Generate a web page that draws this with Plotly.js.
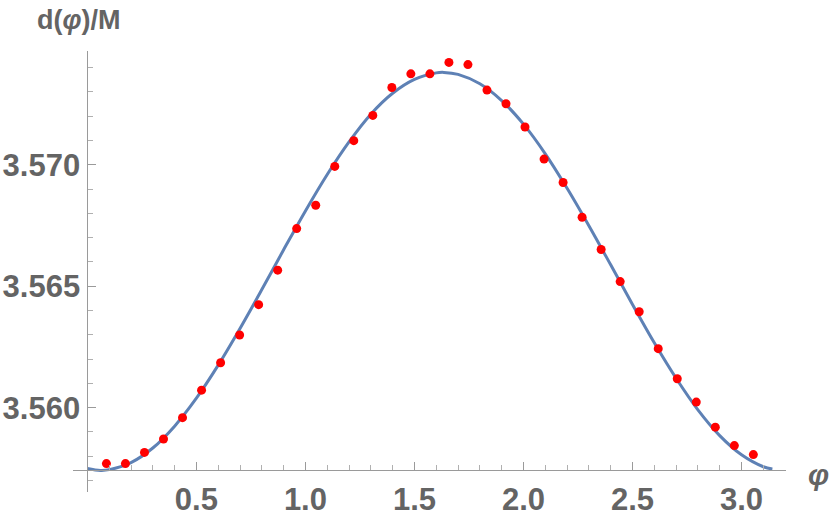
<!DOCTYPE html>
<html>
<head>
<meta charset="utf-8">
<script src="https://cdn.plot.ly/plotly-3.0.1.min.js"></script>
<style>html,body{margin:0;padding:0;background:#fff;}#chart{width:830px;height:517px;}</style>
</head>
<body>
<div id="chart"></div>
<script>
// Curve d(phi)/M
const curvePhi = [0, 0.06, 0.1, 0.2, 0.3, 0.4, 0.5, 0.6, 0.7, 0.8, 0.9, 1.0, 1.1, 1.2, 1.3, 1.4, 1.5, 1.6, 1.635, 1.7, 1.8, 1.9, 2.0, 2.1, 2.2, 2.3, 2.4, 2.5, 2.6, 2.7, 2.8, 2.9, 3.0, 3.1, 3.1416];
const curveD = [3.55750, 3.55742, 3.55745, 3.55774, 3.55834, 3.55924, 3.56039, 3.56175, 3.56326, 3.56486, 3.56650, 3.56810, 3.56960, 3.57094, 3.57208, 3.57294, 3.57351, 3.57378, 3.57380, 3.57372, 3.57333, 3.57264, 3.57167, 3.57045, 3.56903, 3.56749, 3.56588, 3.56425, 3.56267, 3.56121, 3.55991, 3.55885, 3.55806, 3.55757, 3.55748];

// Red sample points
const pointPhi = [0.0873, 0.1745, 0.2618, 0.3491, 0.4363, 0.5236, 0.6109, 0.6981, 0.7854, 0.8727, 0.9599, 1.0472, 1.1345, 1.2217, 1.3090, 1.3963, 1.4835, 1.5708, 1.6581, 1.7453, 1.8326, 1.9199, 2.0071, 2.0944, 2.1817, 2.2689, 2.3562, 2.4435, 2.5307, 2.6180, 2.7053, 2.7925, 2.8798, 2.9671, 3.0543];
const pointD = [3.55770, 3.55770, 3.55816, 3.55871, 3.55959, 3.56072, 3.56185, 3.56299, 3.56424, 3.56566, 3.56737, 3.56833, 3.56993, 3.57099, 3.57203, 3.57318, 3.57374, 3.57374, 3.57421, 3.57412, 3.57307, 3.57251, 3.57155, 3.57023, 3.56927, 3.56784, 3.56651, 3.56519, 3.56395, 3.56243, 3.56119, 3.56023, 3.55920, 3.55844, 3.55807];

// Axis ticks
const xTickVals = [0.5, 1.0, 1.5, 2.0, 2.5, 3.0];
const xTickText = ["0.5", "1.0", "1.5", "2.0", "2.5", "3.0"];
const xMinorVals = [0.1, 0.2, 0.3, 0.4, 0.6, 0.7, 0.8, 0.9, 1.1, 1.2, 1.3, 1.4, 1.6, 1.7, 1.8, 1.9, 2.1, 2.2, 2.3, 2.4, 2.6, 2.7, 2.8, 2.9, 3.1];
const yTickVals = [3.560, 3.565, 3.570];
const yTickText = ["3.560", "3.565", "3.570"];
const yMinorVals = [3.557, 3.558, 3.559, 3.561, 3.562, 3.563, 3.564, 3.566, 3.567, 3.568, 3.569, 3.571, 3.572, 3.573, 3.574];

const xRange = [-0.066, 3.204];
const yRange = [3.55653, 3.57468];
const xAxisAtY = 3.55745;
const yAxisAtX = 0;

const tickFont = {family: "Liberation Sans, Arial, sans-serif", size: 31, color: "#646464", weight: "bold"};

const data = [
  {x: curvePhi, y: curveD, type: "scatter", mode: "lines",
   line: {color: "#5E81B5", width: 3, shape: "spline", smoothing: 1}, hoverinfo: "skip"},
  {x: pointPhi, y: pointD, type: "scatter", mode: "markers",
   marker: {color: "#FF0000", size: 9}}
];

const layout = {
  width: 830, height: 517,
  margin: {l: 73, r: 44, t: 51, b: 25, pad: 0},
  paper_bgcolor: "#fff", plot_bgcolor: "#fff",
  showlegend: false,
  xaxis: {
    range: xRange, showgrid: false, zeroline: false,
    showline: true, linecolor: "#9a9a9a", linewidth: 1,
    anchor: "free",
    position: (xAxisAtY - yRange[0]) / (yRange[1] - yRange[0]),
    tickmode: "array", tickvals: xTickVals, ticktext: xTickText,
    ticks: "inside", ticklen: 8, tickcolor: "#9a9a9a", tickwidth: 1,
    minor: {tickmode: "array", tickvals: xMinorVals, ticks: "inside", ticklen: 5, tickcolor: "#b0b0b0", tickwidth: 1},
    tickfont: tickFont, ticklabelstandoff: 2
  },
  yaxis: {
    range: yRange, showgrid: false, zeroline: false,
    showline: true, linecolor: "#9a9a9a", linewidth: 1,
    anchor: "free",
    position: (yAxisAtX - xRange[0]) / (xRange[1] - xRange[0]),
    tickmode: "array", tickvals: yTickVals, ticktext: yTickText,
    ticks: "inside", ticklen: 8, tickcolor: "#9a9a9a", tickwidth: 1,
    minor: {tickmode: "array", tickvals: yMinorVals, ticks: "inside", ticklen: 5, tickcolor: "#b0b0b0", tickwidth: 1},
    tickfont: tickFont, ticklabelstandoff: 1
  },
  annotations: [
    {text: "d(<i>φ</i>)/M", xref: "paper", yref: "paper", x: -0.053, y: 1.0, yshift: 31,
     xanchor: "left", yanchor: "middle", showarrow: false,
     font: {family: "Liberation Sans, Arial, sans-serif", size: 27, color: "#646464", weight: "bold"}},
    {text: "<i>φ</i>", xref: "paper", yref: "paper", x: 1.0, xshift: 20, yshift: -5, y: (xAxisAtY - yRange[0]) / (yRange[1] - yRange[0]),
     xanchor: "left", yanchor: "middle", showarrow: false,
     font: {family: "Liberation Sans, Arial, sans-serif", size: 30, color: "#646464", weight: "bold"}}
  ]
};

Plotly.newPlot("chart", data, layout, {displayModeBar: false, staticPlot: true});
</script>
</body>
</html>
